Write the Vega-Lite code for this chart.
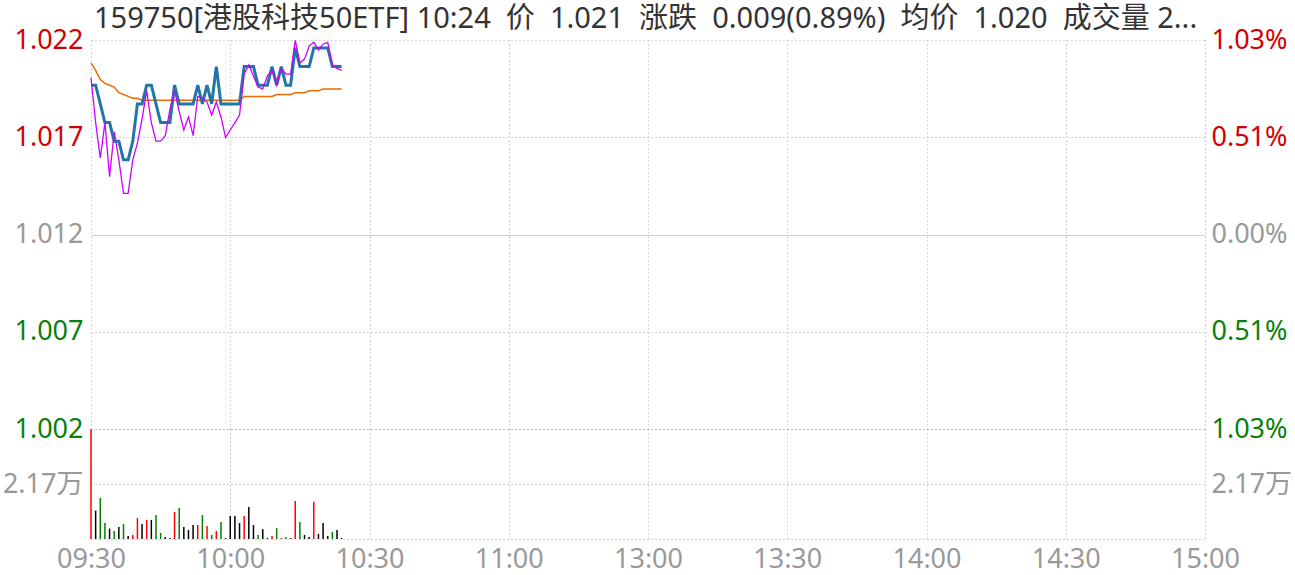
{
  "$schema": "https://vega.github.io/schema/vega-lite/v6.json",
  "background": "white",
  "padding": {"left": 2, "top": 5, "right": 3, "bottom": 2},
  "config": {
    "view": {"stroke": null},
    "font": "Noto Sans, Noto Sans CJK SC"
  },
  "datasets": {
    "minutes": [
      {"m": 0, "price": 1.020, "iopv": 1.0204, "avg": 1.0212, "vol": 43300, "dir": "up"},
      {"m": 1, "price": 1.020, "iopv": 1.0180, "avg": 1.0208, "vol": 11200, "dir": "flat"},
      {"m": 2, "price": 1.019, "iopv": 1.0161, "avg": 1.0203, "vol": 16200, "dir": "down"},
      {"m": 3, "price": 1.018, "iopv": 1.0180, "avg": 1.0201, "vol": 6300, "dir": "down"},
      {"m": 4, "price": 1.018, "iopv": 1.0151, "avg": 1.0200, "vol": 4100, "dir": "flat"},
      {"m": 5, "price": 1.017, "iopv": 1.0175, "avg": 1.0199, "vol": 3200, "dir": "down"},
      {"m": 6, "price": 1.017, "iopv": 1.0160, "avg": 1.0196, "vol": 4700, "dir": "flat"},
      {"m": 7, "price": 1.016, "iopv": 1.0142, "avg": 1.0195, "vol": 5900, "dir": "down"},
      {"m": 8, "price": 1.016, "iopv": 1.0142, "avg": 1.0194, "vol": 1200, "dir": "flat"},
      {"m": 9, "price": 1.017, "iopv": 1.0160, "avg": 1.0193, "vol": 1600, "dir": "up"},
      {"m": 10, "price": 1.019, "iopv": 1.0169, "avg": 1.0193, "vol": 8300, "dir": "up"},
      {"m": 11, "price": 1.019, "iopv": 1.0182, "avg": 1.0192, "vol": 5900, "dir": "flat"},
      {"m": 12, "price": 1.020, "iopv": 1.0197, "avg": 1.0192, "vol": 7500, "dir": "up"},
      {"m": 13, "price": 1.020, "iopv": 1.0180, "avg": 1.0192, "vol": 7500, "dir": "flat"},
      {"m": 14, "price": 1.019, "iopv": 1.0170, "avg": 1.0192, "vol": 9500, "dir": "down"},
      {"m": 15, "price": 1.018, "iopv": 1.0170, "avg": 1.0192, "vol": 2400, "dir": "down"},
      {"m": 16, "price": 1.018, "iopv": 1.0173, "avg": 1.0192, "vol": 800, "dir": "flat"},
      {"m": 17, "price": 1.018, "iopv": 1.0187, "avg": 1.0192, "vol": 400, "dir": "flat"},
      {"m": 18, "price": 1.020, "iopv": 1.0197, "avg": 1.0192, "vol": 10700, "dir": "up"},
      {"m": 19, "price": 1.019, "iopv": 1.0186, "avg": 1.0192, "vol": 12200, "dir": "down"},
      {"m": 20, "price": 1.019, "iopv": 1.0176, "avg": 1.0192, "vol": 4700, "dir": "flat"},
      {"m": 21, "price": 1.019, "iopv": 1.0183, "avg": 1.0192, "vol": 3600, "dir": "flat"},
      {"m": 22, "price": 1.019, "iopv": 1.0173, "avg": 1.0192, "vol": 5500, "dir": "flat"},
      {"m": 23, "price": 1.020, "iopv": 1.0194, "avg": 1.0192, "vol": 5500, "dir": "up"},
      {"m": 24, "price": 1.019, "iopv": 1.0193, "avg": 1.0192, "vol": 9500, "dir": "down"},
      {"m": 25, "price": 1.020, "iopv": 1.0191, "avg": 1.0192, "vol": 5100, "dir": "up"},
      {"m": 26, "price": 1.019, "iopv": 1.0184, "avg": 1.0192, "vol": 1600, "dir": "down"},
      {"m": 27, "price": 1.021, "iopv": 1.0191, "avg": 1.0192, "vol": 3200, "dir": "up"},
      {"m": 28, "price": 1.019, "iopv": 1.0183, "avg": 1.0192, "vol": 6700, "dir": "down"},
      {"m": 29, "price": 1.019, "iopv": 1.0172, "avg": 1.0192, "vol": 400, "dir": "flat"},
      {"m": 30, "price": 1.019, "iopv": 1.0176, "avg": 1.0192, "vol": 9100, "dir": "flat"},
      {"m": 31, "price": 1.019, "iopv": 1.0180, "avg": 1.0192, "vol": 9100, "dir": "flat"},
      {"m": 32, "price": 1.019, "iopv": 1.0184, "avg": 1.0192, "vol": 6300, "dir": "flat"},
      {"m": 33, "price": 1.021, "iopv": 1.0206, "avg": 1.0194, "vol": 9100, "dir": "up"},
      {"m": 34, "price": 1.021, "iopv": 1.0211, "avg": 1.0194, "vol": 12600, "dir": "flat"},
      {"m": 35, "price": 1.021, "iopv": 1.0205, "avg": 1.0194, "vol": 5500, "dir": "flat"},
      {"m": 36, "price": 1.020, "iopv": 1.0199, "avg": 1.0194, "vol": 1600, "dir": "down"},
      {"m": 37, "price": 1.020, "iopv": 1.0198, "avg": 1.0194, "vol": 3900, "dir": "flat"},
      {"m": 38, "price": 1.020, "iopv": 1.0205, "avg": 1.0194, "vol": 400, "dir": "flat"},
      {"m": 39, "price": 1.021, "iopv": 1.0208, "avg": 1.0194, "vol": 1200, "dir": "up"},
      {"m": 40, "price": 1.020, "iopv": 1.0200, "avg": 1.0195, "vol": 4300, "dir": "down"},
      {"m": 41, "price": 1.021, "iopv": 1.0209, "avg": 1.0195, "vol": 400, "dir": "up"},
      {"m": 42, "price": 1.020, "iopv": 1.0206, "avg": 1.0195, "vol": 800, "dir": "down"},
      {"m": 43, "price": 1.020, "iopv": 1.0206, "avg": 1.0195, "vol": 400, "dir": "flat"},
      {"m": 44, "price": 1.022, "iopv": 1.0224, "avg": 1.0196, "vol": 15000, "dir": "up"},
      {"m": 45, "price": 1.021, "iopv": 1.0212, "avg": 1.0196, "vol": 6700, "dir": "down"},
      {"m": 46, "price": 1.021, "iopv": 1.0214, "avg": 1.0196, "vol": 1600, "dir": "flat"},
      {"m": 47, "price": 1.021, "iopv": 1.0221, "avg": 1.0197, "vol": 800, "dir": "flat"},
      {"m": 48, "price": 1.022, "iopv": 1.0223, "avg": 1.0197, "vol": 14700, "dir": "up"},
      {"m": 49, "price": 1.022, "iopv": 1.0219, "avg": 1.0197, "vol": 2000, "dir": "flat"},
      {"m": 50, "price": 1.022, "iopv": 1.0222, "avg": 1.0198, "vol": 6300, "dir": "flat"},
      {"m": 51, "price": 1.022, "iopv": 1.0223, "avg": 1.0198, "vol": 1200, "dir": "flat"},
      {"m": 52, "price": 1.021, "iopv": 1.0211, "avg": 1.0198, "vol": 2800, "dir": "down"},
      {"m": 53, "price": 1.021, "iopv": 1.0209, "avg": 1.0198, "vol": 3600, "dir": "flat"},
      {"m": 54, "price": 1.021, "iopv": 1.0208, "avg": 1.0198, "vol": 400, "dir": "flat"}
    ]
  },
  "data": {"name": "minutes"},
  "spacing": 0,
  "bounds": "flush",
  "resolve": {"scale": {"x": "independent", "y": "independent"}},
  "vconcat": [
    {
      "width": 1114,
      "height": 389,
      "title": {
        "text": "159750[港股科技50ETF] 10:24\u00a0 价\u00a0 1.021\u00a0 涨跌\u00a0 0.009(0.89%)\u00a0 均价\u00a0 1.020\u00a0 成交量 2...",
        "anchor": "start",
        "frame": "group",
        "dx": 3,
        "offset": -8,
        "font": "Noto Sans, Noto Sans CJK SC",
        "fontSize": 29,
        "fontWeight": "normal",
        "color": "#333333"
      },
      "layer": [
        {
          "mark": {"type": "line", "color": "#f06a00", "strokeWidth": 1.5},
          "encoding": {
            "x": {
              "field": "m",
              "type": "quantitative",
              "scale": {"domain": [0, 240], "nice": false, "zero": false},
              "axis": {
                "values": [0, 30, 60, 90, 120, 150, 180, 210, 240],
                "labels": false,
                "ticks": false,
                "domain": false,
                "title": null,
                "grid": true,
                "gridDash": [1, 3],
                "gridColor": "#aaaaaa"
              }
            },
            "y": {
              "field": "avg",
              "type": "quantitative",
              "scale": {"domain": [1.001576, 1.022424], "nice": false, "zero": false},
              "axis": {
                "orient": "left",
                "values": [1.001576, 1.006788, 1.012, 1.017212, 1.022424],
                "labelExpr": "format(datum.value, '.3f')",
                "title": null,
                "domain": false,
                "ticks": false,
                "tickSize": 0,
                "labelPadding": 8,
                "labelFont": "Noto Sans, Noto Sans CJK SC",
                "labelFontSize": 27,
                "labelFlush": false,
                "labelOverlap": false,
                "labelColor": {
                  "condition": [
                    {"test": "datum.value > 1.0125", "value": "#d40000"},
                    {"test": "datum.value < 1.0115", "value": "#0a7f0a"}
                  ],
                  "value": "#999999"
                },
                "grid": true,
                "gridDash": {"condition": {"test": "datum.value == 1.012", "value": []}, "value": [1, 3]},
                "gridColor": {"condition": {"test": "datum.value == 1.012", "value": "#d0d0d0"}, "value": "#aaaaaa"},
                "minExtent": 88,
                "maxExtent": 88
              }
            }
          }
        },
        {
          "mark": {"type": "line", "color": "#2176a6", "strokeWidth": 3},
          "encoding": {
            "x": {"field": "m", "type": "quantitative"},
            "y": {
              "field": "price",
              "type": "quantitative",
              "scale": {"domain": [1.001576, 1.022424], "nice": false, "zero": false},
              "axis": null
            }
          }
        },
        {
          "mark": {"type": "line", "color": "#cc00ff", "strokeWidth": 1.3},
          "encoding": {
            "x": {"field": "m", "type": "quantitative"},
            "y": {
              "field": "iopv",
              "type": "quantitative",
              "scale": {"domain": [1.001576, 1.022424], "nice": false, "zero": false},
              "axis": {
                "orient": "right",
                "values": [1.001576, 1.006788, 1.012, 1.017212, 1.022424],
                "labelExpr": "datum.value > 1.02 || datum.value < 1.004 ? '1.03%' : (datum.value > 1.015 || datum.value < 1.009 ? '0.51%' : '0.00%')",
                "title": null,
                "domain": false,
                "ticks": false,
                "tickSize": 0,
                "labelPadding": 6,
                "labelFont": "Noto Sans, Noto Sans CJK SC",
                "labelFontSize": 27,
                "labelFlush": false,
                "labelOverlap": false,
                "labelColor": {
                  "condition": [
                    {"test": "datum.value > 1.0125", "value": "#d40000"},
                    {"test": "datum.value < 1.0115", "value": "#0a7f0a"}
                  ],
                  "value": "#999999"
                },
                "grid": false,
                "minExtent": 88,
                "maxExtent": 88
              }
            }
          }
        }
      ],
      "resolve": {"scale": {"y": "independent"}}
    },
    {
      "width": 1114,
      "height": 110,
      "layer": [
        {
          "mark": {"type": "rule", "strokeWidth": 1.5},
          "encoding": {
            "x": {
              "field": "m",
              "type": "quantitative",
              "scale": {"domain": [0, 240], "nice": false, "zero": false},
              "axis": {
                "values": [0, 30, 60, 90, 120, 150, 180, 210, 240],
                "labelExpr": "['09:30', '10:00', '10:30', '11:00', '13:00', '13:30', '14:00', '14:30', '15:00'][datum.value / 30]",
                "labelFont": "Noto Sans, Noto Sans CJK SC",
                "labelFontSize": 27,
                "labelColor": "#999999",
                "labelPadding": 7,
                "labelFlush": false,
                "labelOverlap": false,
                "ticks": false,
                "tickSize": 0,
                "domain": true,
                "domainDash": [1, 3],
                "domainColor": "#aaaaaa",
                "title": null,
                "grid": true,
                "gridDash": [1, 3],
                "gridColor": "#aaaaaa"
              }
            },
            "y": {
              "field": "vol",
              "type": "quantitative",
              "scale": {"domain": [0, 43400], "nice": false},
              "axis": {
                "orient": "left",
                "values": [21700, 43400],
                "labelExpr": "datum.value == 21700 ? '2.17万' : ''",
                "title": null,
                "domain": false,
                "ticks": false,
                "tickSize": 0,
                "labelPadding": 8,
                "labelFont": "Noto Sans, Noto Sans CJK SC",
                "labelFontSize": 27,
                "labelColor": "#999999",
                "labelFlush": false,
                "labelOverlap": false,
                "grid": true,
                "gridDash": [1, 3],
                "gridColor": "#aaaaaa",
                "minExtent": 88,
                "maxExtent": 88
              }
            },
            "y2": {"datum": 0},
            "color": {
              "field": "dir",
              "type": "nominal",
              "scale": {"domain": ["up", "down", "flat"], "range": ["#ff0000", "#008000", "#000000"]},
              "legend": null
            }
          }
        },
        {
          "mark": {"type": "rule", "opacity": 0},
          "encoding": {
            "x": {"field": "m", "type": "quantitative"},
            "y": {
              "field": "vol",
              "type": "quantitative",
              "scale": {"domain": [0, 43400], "nice": false},
              "axis": {
                "orient": "right",
                "values": [21700],
                "labelExpr": "'2.17万'",
                "title": null,
                "domain": false,
                "ticks": false,
                "tickSize": 0,
                "labelPadding": 6,
                "labelFont": "Noto Sans, Noto Sans CJK SC",
                "labelFontSize": 27,
                "labelColor": "#999999",
                "labelFlush": false,
                "labelOverlap": false,
                "grid": false,
                "minExtent": 88,
                "maxExtent": 88
              }
            },
            "y2": {"datum": 0}
          }
        }
      ],
      "resolve": {"scale": {"y": "independent"}}
    }
  ]
}
